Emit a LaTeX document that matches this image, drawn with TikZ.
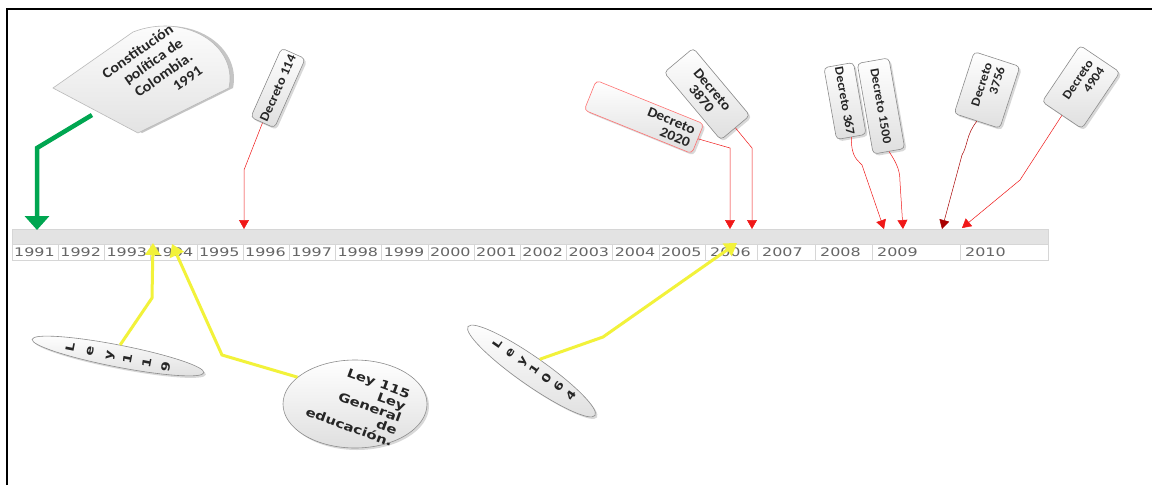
\documentclass[tikz,border=0pt]{standalone}
\usepackage{fontspec}
\setmainfont{Carlito}
\newfontfamily\yearfont[FakeStretch=1.35]{DejaVu Sans}
\newfontfamily\boxfont[FakeStretch=1.1]{Carlito}
\newfontfamily\elfont[FakeStretch=1.25]{DejaVu Sans}
\usetikzlibrary{arrows.meta,shadows,shapes.geometric}
\definecolor{tlgreen}{HTML}{00A651}
\definecolor{tlred}{HTML}{F01818}
\definecolor{tldarkred}{HTML}{A80000}
\definecolor{tlyellow}{HTML}{F2F23A}
\definecolor{bandgray}{HTML}{E3E3E3}
\definecolor{cellline}{HTML}{D6D6D6}
\definecolor{yeartext}{HTML}{666666}
\definecolor{boxedge}{HTML}{8C8C8C}
\tikzset{
  yearlab/.style={anchor=west, inner sep=0pt, text=yeartext, font=\yearfont\fontsize{11.8}{11.8}\selectfont},
  decbox/.style={draw=boxedge, line width=0.6pt, rounded corners=4pt, top color=white, bottom color=gray!25,
    drop shadow={opacity=0.3, shadow xshift=2pt, shadow yshift=-2pt},
    font=\boxfont\bfseries\fontsize{12.5}{13.5}\selectfont, inner sep=2pt, align=center, text=black!85},
  ellnode/.style={ellipse, draw=boxedge, line width=0.6pt, top color=white, bottom color=gray!25,
    drop shadow={opacity=0.3, shadow xshift=2pt, shadow yshift=-2pt}},
  elltext/.style={text=black!85, inner sep=0pt},
  redarrow/.style={draw=tlred, line width=0.5pt, -{Triangle[width=10pt,length=9pt]}},
  yellowarrow/.style={draw=tlyellow, line width=3pt, -{Triangle[width=15pt,length=12pt]}},
  greenarrow/.style={draw=tlgreen, line width=4.5pt, -{Triangle[width=24pt,length=14pt]}}
}
\begin{document}
\begin{tikzpicture}[x=1pt,y=-1pt]
\useasboundingbox (0,0) rectangle (1152,485);
\fill[white] (0,0) rectangle (1152,485);
\draw[line width=2pt] (7,485) -- (7,9) -- (1152,9);

% timeline
\fill[bandgray] (12,229) rectangle (1048,244);
\fill[white] (12,244) rectangle (1048,260);
\draw[cellline] (12,229) rectangle (1048,260);
\draw[cellline] (12,244) -- (1048,244);
\foreach \yr [count=\i from 0] in {1991,...,2005} {
  \node[yearlab] (y\yr) at ({14+46.2*\i},252.5) {\yr};
  \draw[cellline] ({12+46.2*(\i+1)},244) -- ({12+46.2*(\i+1)},260);
}
\foreach \yr/\x/\xe in {2006/705/757, 2007/757/815, 2008/815/872, 2009/872/960, 2010/960/1048} {
  \node[yearlab] (y\yr) at ({\x+5},252.5) {\yr};
  \draw[cellline] (\xe,244) -- (\xe,260);
}

% arrow tips on the timeline
\coordinate (t1991) at (37,230);
\coordinate (t1996) at (244,229);
\coordinate (t2006a) at (730,229);
\coordinate (t2006b) at (752,229);
\coordinate (t367) at (884,229);
\coordinate (t1500) at (903,229);
\coordinate (t3756) at (942,229);
\coordinate (t4904) at (962,228);
\coordinate (t1994a) at (153,243);
\coordinate (t1994b) at (172,244);
\coordinate (t2006y) at (737,243);

% Constitucion shape
\path[draw=gray!55, line width=0.6pt, top color=white, bottom color=gray!22,
  drop shadow={opacity=0.45, shadow xshift=4pt, shadow yshift=0pt}]
  (53,88) -- (133,32) .. controls (185,12) and (238,45) .. (229,88) -- (138,133) -- cycle;
\node[rotate=35, align=right, font=\boxfont\bfseries\fontsize{14.5}{17}\selectfont, inner sep=0pt, text=black!85]
  (const) at (152,72) {Constitución\\política de\\Colombia.\\1991};
\coordinate (constfoot) at (92,115);

% Decretos
\node[decbox, rotate=66, minimum width=70pt, minimum height=26pt, font=\boxfont\bfseries\fontsize{13}{14}\selectfont] (d114) at (278,88) {Decreto 114};
\node[decbox, draw=red!55, rotate=-22, minimum width=116pt, minimum height=32pt, text width=104pt, align=right,
  font=\boxfont\bfseries\fontsize{14}{14}\selectfont] (d2020) at (644,117) {Decreto\\2020};
\node[decbox, rotate=-50, minimum width=88pt, minimum height=38pt,
  font=\boxfont\bfseries\fontsize{14}{14}\selectfont] (d3870) at (707,94) {Decreto\\3870};
\node[decbox, rotate=-80, minimum width=72pt, minimum height=30pt] (d367) at (845,101) {Decreto 367};
\node[decbox, rotate=-80, minimum width=92pt, minimum height=32pt] (d1500) at (881,106) {Decreto 1500};
\node[decbox, rotate=72, minimum width=65pt, minimum height=48pt, text width=52pt, align=right] (d3756) at (987,90) {Decreto\\3756};
\node[decbox, rotate=56, minimum width=68pt, minimum height=48pt, text width=54pt, align=right] (d4904) at (1081,87) {Decreto\\4904};

% Leyes
\node[ellnode, rotate=-11, minimum width=175pt, minimum height=22pt] (ley119) at (118,356) {};
\node[elltext, rotate=79, align=center, font=\elfont\bfseries\fontsize{11.5}{19.5}\selectfont] (ley119t) at (118,357) {L\\e\\y\\1\\1\\9};
\node[ellnode, rotate=-35, minimum width=155pt, minimum height=28pt] (ley1064) at (531.5,371) {};
\node[elltext, rotate=55, align=center, font=\elfont\bfseries\fontsize{11}{15}\selectfont] (ley1064t) at (534,369.5) {L\\e\\y\\1\\0\\6\\4};
\node[ellnode, minimum width=144pt, minimum height=88pt] (ley115) at (355,404) {};
\node[elltext, rotate=-20, align=right, font=\elfont\bfseries\fontsize{12}{12.8}\selectfont] (ley115t) at (358,403) {Ley 115\\Ley\\General\\de\\educación.};

% connectors
\draw[greenarrow] (constfoot) -- (37,148) -- (t1991);
\draw[redarrow] (d114.west) -- (244,170) -- (t1996);
\draw[redarrow] (d2020.east) -- (730,148) -- (t2006a);
\draw[redarrow] (d3870.east) -- (752,148) -- (t2006b);
\draw[redarrow] (d367.east) .. controls (851,158) and (858,160) .. (862,165) -- (t367);
\draw[redarrow] (d1500.east) .. controls (898,165) and (900,172) .. (900,182) -- (t1500);
\draw[redarrow, draw=tldarkred] (d3756.west) .. controls (966,135) and (968,145) .. (962,155) -- (t3756);
\draw[redarrow] (d4904.west) -- (1020,180) -- (t4904);
\draw[yellowarrow] (ley119.north) -- (152,298) -- (t1994a);
\draw[yellowarrow] (ley115.155) -- (222,355) -- (t1994b);
\draw[yellowarrow] (ley1064.north) -- (603,337) -- (t2006y);
\end{tikzpicture}
\end{document}
